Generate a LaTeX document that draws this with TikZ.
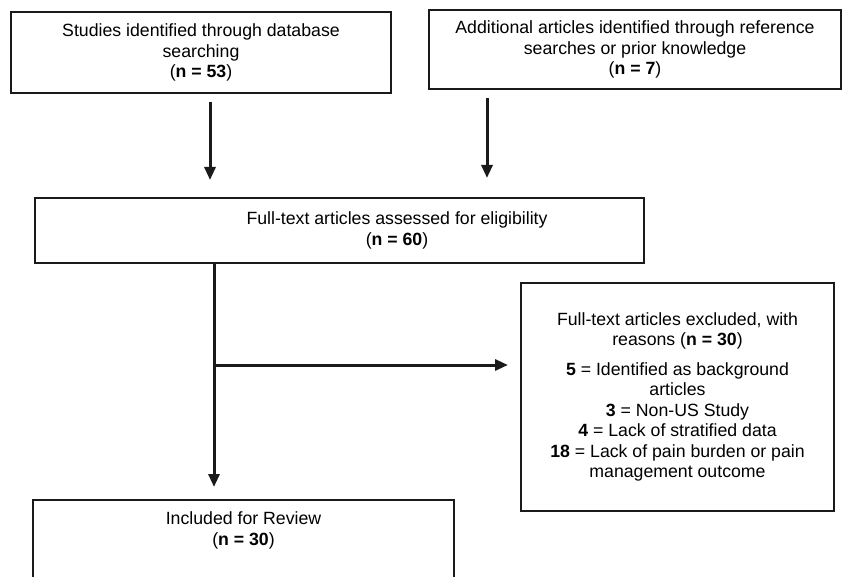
\documentclass[tikz,border=0pt]{standalone}
\usepackage{fontspec}
\setmainfont{Liberation Sans}
\usetikzlibrary{arrows.meta,calc}
\definecolor{inkline}{HTML}{1A1A1A}

\begin{document}
\begin{tikzpicture}[x=1pt,y=-1pt,
    flowbox/.style={draw=inkline,line width=2.6pt,inner sep=0pt,outer sep=0pt,align=center,font=\fontsize{17.7}{20.5}\selectfont},
    flowtext/.style={align=center,font=\fontsize{17.7}{20.5}\selectfont},
    flowarrow/.style={draw=inkline,line width=3pt,-{Triangle[length=13pt,width=11pt]}}]
    \useasboundingbox (0,0) rectangle (843,577);
    % top row
    \node[flowbox,minimum width=380pt,minimum height=81pt] (studies) at (201,52.5) {Studies identified through database\\searching\\(\textbf{n = 53})};
    \node[flowbox,minimum width=412pt,minimum height=79pt] (additional) at (635,49.5) {Additional articles identified through reference\\searches or prior knowledge\\(\textbf{n = 7})};
    % screening
    \node[flowbox,minimum width=609pt,minimum height=65pt] (assessed) at (339.5,230.5) {};
    \node[flowtext] (assessedtext) at (397,230.5) {Full-text articles assessed for eligibility\\(\textbf{n = 60})};
    \node[flowbox,minimum width=313pt,minimum height=228pt] (excluded) at (677.5,397) {Full-text articles excluded, with\\reasons (\textbf{n = 30})\\[9pt]\textbf{5} = Identified as background\\articles\\\textbf{3} = Non-US Study\\\textbf{4} = Lack of stratified data\\\textbf{18} = Lack of pain burden or pain\\management outcome};
    \node[flowbox,minimum width=421pt,inner ysep=12pt,text depth=80pt,anchor=north] (included) at (243.5,500) {Included for Review\\(\textbf{n = 30})};
    \coordinate (split) at (214,365);
    % connectors
    \draw[flowarrow] ([shift={(9,9)}]studies.south) -- ($(studies.south |- assessed.north)+(9,-18)$);
    \draw[flowarrow] ([shift={(-148,9)}]additional.south) -- ($(additional.south |- assessed.north)+(-148,-20)$);
    \draw[flowarrow] (assessed.south -| split) -- ($(split |- included.north)+(0,-13)$);
    \draw[flowarrow] (split) -- ($(split -| excluded.west)+(-13,0)$);
\end{tikzpicture}
\end{document}
